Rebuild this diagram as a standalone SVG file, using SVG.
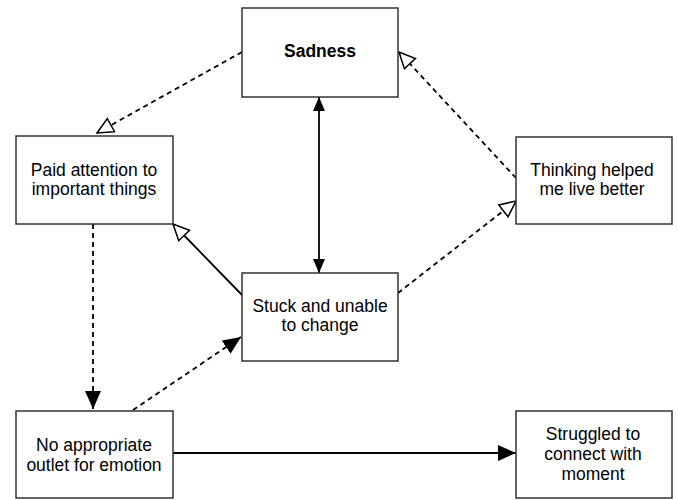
<svg xmlns="http://www.w3.org/2000/svg" width="678" height="500" viewBox="0 0 678 500">
<style>
.box{fill:#fff;stroke:#333;stroke-width:1.5}
.t{font-family:"Liberation Sans",Arial,sans-serif;font-size:17.5px;fill:#000;text-anchor:middle}
.b{font-weight:bold}
.ln{fill:none;stroke:#000;stroke-width:1.8}
.d{stroke-dasharray:5 4}
</style>
<defs>
<marker id="fa" markerUnits="userSpaceOnUse" markerWidth="16" markerHeight="14" refX="14" refY="6" orient="auto-start-reverse"><path d="M0,0 L14,6 L0,12 z" fill="#000"/></marker>
<marker id="fb" markerUnits="userSpaceOnUse" markerWidth="20" markerHeight="18" refX="18" refY="8" orient="auto"><path d="M0,0 L18,8 L0,16 z" fill="#000"/></marker>
<marker id="ho" markerUnits="userSpaceOnUse" markerWidth="19" markerHeight="19" refX="17" refY="8.5" orient="auto"><path d="M1,1 L17,8.5 L1,16 z" fill="#fff" stroke="#000" stroke-width="1.5"/></marker>
</defs>
<rect width="678" height="500" fill="#fff"/>
<g id="connectors">
<path class="ln d" d="M242,52 L97,133" marker-end="url(#ho)"/>
<path class="ln d" d="M516,178 L399,52" marker-end="url(#ho)"/>
<path class="ln d" d="M398,293 L516,201" marker-end="url(#ho)"/>
<path class="ln" d="M242,295 L173,224" marker-end="url(#ho)"/>
<path class="ln" d="M319,97 L319,273" marker-start="url(#fa)" marker-end="url(#fa)"/>
<path class="ln d" d="M93,224 L93,409" marker-end="url(#fb)"/>
<path class="ln d" d="M133,410 L241,337" marker-end="url(#fb)"/>
<path class="ln" d="M173,453 L516,453" marker-end="url(#fb)"/>
</g>
<g id="sadness"><rect class="box" x="242" y="8" width="156" height="89"/><text class="t b" x="320" y="57">Sadness</text></g>
<g id="paid-attention"><rect class="box" x="16" y="136" width="157" height="88"/><text class="t" x="94" y="176">Paid attention to</text><text class="t" x="94" y="195">important things</text></g>
<g id="thinking"><rect class="box" x="516" y="137" width="156" height="87"/><text class="t" x="592" y="176">Thinking helped</text><text class="t" x="592" y="195">me live better</text></g>
<g id="stuck"><rect class="box" x="242" y="273" width="156" height="88"/><text class="t" x="320" y="312">Stuck and unable</text><text class="t" x="320" y="331">to change</text></g>
<g id="no-outlet"><rect class="box" x="16" y="411" width="157" height="87"/><text class="t" x="94" y="451">No appropriate</text><text class="t" x="94" y="471">outlet for emotion</text></g>
<g id="struggled"><rect class="box" x="516" y="411" width="156" height="87"/><text class="t" x="593" y="440">Struggled to</text><text class="t" x="593" y="460">connect with</text><text class="t" x="593" y="480">moment</text></g>
</svg>
